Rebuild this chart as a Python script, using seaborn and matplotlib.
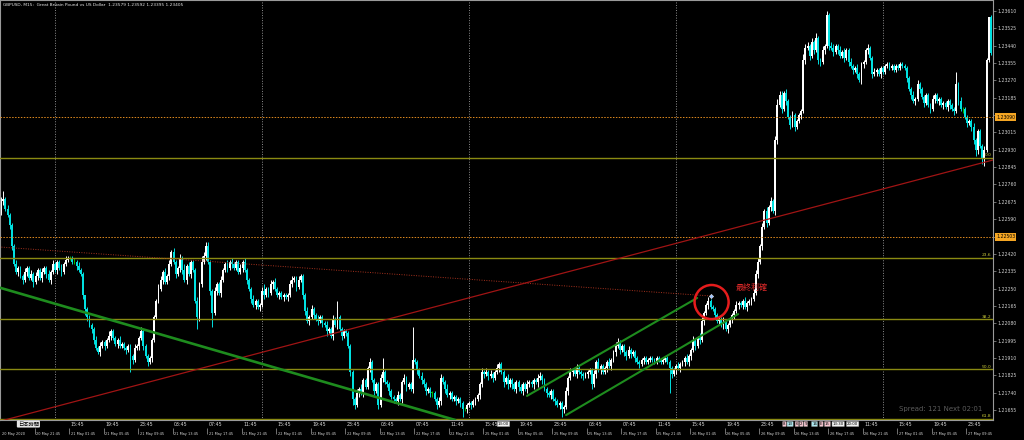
import matplotlib

matplotlib.use("Agg")
import matplotlib.pyplot as plt
from matplotlib.patches import Ellipse
import numpy as np
import pandas as pd
import seaborn as sns

# GBPUSD M15, closes in pips above 1.20000, first bar 20 May 17:45
FIRST_OPEN_PIPS = 262
CLOSE_PIPS = [
    268, 269, 264, 261, 256, 246, 237, 233, 235, 231,
    229, 233, 235, 230, 232, 228, 231, 234, 230, 233,
    235, 232, 229, 233, 237, 234, 238, 235, 233, 237,
    239, 240, 240, 238, 238, 236, 234, 232, 222, 215,
    211, 207, 205, 200, 196, 194, 197, 199, 197, 200,
    202, 204, 201, 198, 200, 197, 198, 196, 195, 197,
    192, 190, 196, 197, 201, 204, 197, 192, 189, 191,
    200, 211, 219, 225, 229, 233, 228, 231, 237, 243,
    238, 232, 235, 240, 234, 229, 236, 232, 238, 234,
    219, 211, 227, 238, 241, 246, 238, 224, 213, 224,
    227, 223, 229, 234, 237, 235, 238, 237, 235, 238,
    233, 235, 238, 234, 229, 225, 220, 217, 219, 216,
    217, 224, 222, 225, 223, 227, 228, 225, 222, 223,
    221, 222, 221, 222, 227, 229, 230, 226, 229, 231,
    222, 214, 209, 211, 215, 212, 210, 209, 211, 208,
    207, 204, 205, 202, 210, 207, 211, 205, 202, 204,
    203, 197, 184, 171, 168, 174, 176, 174, 180, 177,
    186, 189, 180, 175, 178, 168, 181, 184, 179, 178,
    175, 172, 171, 170, 173, 171, 179, 181, 177, 178,
    176, 190, 189, 185, 182, 180, 178, 175, 176, 174,
    174, 171, 168, 170, 181, 179, 176, 173, 174, 171,
    172, 170, 171, 169, 166, 166, 168, 169, 168, 170,
    171, 173, 178, 184, 183, 184, 182, 183, 181, 184,
    186, 188, 184, 179, 181, 178, 180, 178, 176, 179,
    177, 175, 178, 176, 178, 179, 178, 180, 179, 181,
    182, 180, 176, 174, 173, 175, 171, 170, 168, 169,
    166, 167, 175, 181, 184, 185, 183, 186, 184, 183,
    182, 183, 184, 185, 178, 183, 189, 185, 187, 184,
    186, 189, 187, 190, 194, 197, 199, 195, 197, 194,
    192, 195, 193, 194, 191, 189, 188, 190, 191, 189,
    190, 191, 190, 189, 191, 190, 189, 190, 191, 189,
    186, 183, 185, 187, 186, 188, 189, 191, 189, 192,
    195, 200, 197, 201, 200, 209, 213, 217, 219, 216,
    215, 212, 209, 210, 207, 209, 205, 207, 210, 212,
    214, 217, 218, 217, 219, 216, 218, 219, 220, 223,
    232, 238, 246, 255, 263, 257, 265, 268, 263, 298,
    315, 320, 313, 321, 317, 309, 305, 310, 304, 307,
    310, 312, 337, 343, 344, 339, 346, 342, 348, 337,
    336, 342, 344, 359, 344, 343, 341, 344, 342, 339,
    341, 338, 342, 336, 334, 332, 333, 330, 327, 335,
    336, 342, 343, 338, 330, 331, 332, 330, 333, 331,
    334, 335, 333, 334, 332, 334, 333, 335, 334, 333,
    328, 323, 320, 317, 318, 325, 323, 319, 316, 320,
    315, 313, 318, 320, 317, 318, 315, 316, 314, 317,
    315, 313, 312, 325, 317, 313, 313, 309, 306, 307,
    304, 298, 293, 302, 295, 289, 293, 337, 357.9, 340.5,
]
# wick lengths beyond the body, pips, one digit per bar
UPPER_WICK = (
    "2412111211 1211212112 1121211121 2111212110 1111212111 "
    "2111121111 1121121111 1112212121 2112131211 1213222112 "
    "1121121211 1212111211 1231121211 1111221121 1121211211 "
    "1211218111 1111121211 1211112711 1111211211 1111121111 "
    "1112211211 1111111111 1112121211 2111121111 1111211112 "
    "2111111111 1121211211 1111121211 1121122111 1211111111 "
    "1111111111 1111211121 1211221121 1111121111 1211121112 "
    "2212121212 3221211211 1132212121 1212122112 1211211211 "
    "1121121111 1111111111 1112121111 1121111111 1116121111 "
    "1211112101"
)
LOWER_WICK = (
    "1211221121 2121121212 1212112121 1111121123 2122112121 "
    "1211211121 8211212121 2111121121 1212212121 1621121271 "
    "2121121211 1121212121 2121212112 1212111211 2212121212 "
    "1211212121 1123212121 1212121211 2121212121 1212121212 "
    "2121212121 1212412121 2121212121 1212121212 2121211212 "
    "1212121212 4212121212 2121212121 1212121212 2121212121 "
    "1111111111 1212121212 2121212121 1212121212 2121212121 "
    "1212121212 2121212121 1212121212 2121212121 1212121212 "
    "2121212121 1111111111 2121212121 1212121212 2121212121 "
    "2232134111"
)
BIG_UPPER = {191: 16}
BIG_LOWER = {310: 12}

Y_TICK_LABELS = [
    "1.23610", "1.23525", "1.23440", "1.23355", "1.23270", "1.23185",
    "1.23100", "1.23015", "1.22930", "1.22845", "1.22760", "1.22675",
    "1.22590", "1.22505", "1.22420", "1.22335", "1.22250", "1.22165",
    "1.22080", "1.21995", "1.21910", "1.21825", "1.21740", "1.21655",
]
PRICE_LINES = [1.23090, 1.22503]
FIB_HIGH, FIB_LOW = 1.22890, 1.20820
FIB_RATIOS = [0.0, 0.236, 0.382, 0.5, 0.618]
FIB_LABELS = ["0.0", "23.6", "38.2", "50.0", "61.8"]
DAY_GRID_IDX = [25, 121, 217, 313, 409]

# trendlines: (bar index, price)
DOTTED_TREND_X, DOTTED_TREND_Y = [-1.0, 328.8], [1.22454, 1.22214]
RED_TREND_X, RED_TREND_Y = [-0.5, 460.0], [1.21600, 1.22880]
GREEN_TREND_X, GREEN_TREND_Y = [-0.5, 210.6], [1.22254, 1.21606]
CHANNEL_UP_X, CHANNEL_UP_Y = [243.9, 322.8], [1.21724, 1.22204]
CHANNEL_LO_X, CHANNEL_LO_Y = [262.0, 341.8], [1.21630, 1.22125]
MARK_IDX, MARK_PRICE = 329.3, 1.22214
NOTE_TEXT = "最終利確"

BOTTOM_IDX = [0, 16, 32, 48, 64, 80, 96, 112, 128, 144, 160, 176, 192, 208,
              224, 240, 256, 272, 288, 304, 320, 336, 352, 368, 384, 400,
              416, 432, 448]
BOTTOM_LABELS = [
    "20 May 2020", "20 May 21:45", "21 May 01:45", "21 May 05:45",
    "21 May 09:45", "21 May 13:45", "21 May 17:45", "21 May 21:45",
    "22 May 01:45", "22 May 05:45", "22 May 09:45", "22 May 13:45",
    "22 May 17:45", "22 May 21:45", "25 May 01:45", "25 May 05:45",
    "25 May 09:45", "25 May 13:45", "25 May 17:45", "25 May 21:45",
    "26 May 01:45", "26 May 05:45", "26 May 09:45", "26 May 13:45",
    "26 May 17:45", "26 May 21:45", "27 May 01:45", "27 May 05:45",
    "27 May 09:45",
]
# JST row; the two slots under the calendar markers are covered
JST_LABELS = [
    "15:45", "19:45", "23:45", "03:45", "07:45", "11:45",
    "15:45", "19:45", "23:45", "03:45", "07:45", "11:45",
    "15:45", "19:45", "23:45", "03:45", "07:45", "11:45",
    "15:45", "19:45", "23:45", None, None, "11:45",
    "15:45", "19:45", "23:45",
]
EVENT_IDX = [230.4, 362.7, 364.75, 368.5, 370.55, 372.6, 376.1, 379.8, 382.1, 385.6, 392.3]
EVENT_TEXT = ["13:00", "8", "13", "6", "2", "9", "16", "E", "15", "13:30", "20:00"]
EVENT_KIND = ["w", "p", "c", "p", "p", "p", "c", "p", "p", "w", "w"]
EVENT_FILL = {"w": "#f2f2f2", "p": "#f6c4cf", "c": "#aee6ee"}

TITLE = "GBPUSD, M15:  Great Britain Pound vs US Dollar  1.23579 1.23592 1.23395 1.23405"

BULL, BEAR, DOJI = "#ffffff", "#00e0e0", "#00c000"
OLIVE, ORANGE, GREEN, DARKRED = "#8a8a12", "#e08a1e", "#1e8c1e", "#a01414"


def digits(s):
    return np.array([int(ch) for ch in s.replace(" ", "")], dtype=float)


def main():
    sns.set_theme(style="dark")
    plt.rcParams["font.family"] = ["DejaVu Sans", "Noto Sans CJK JP"]

    close = 1.2 + np.array(CLOSE_PIPS, dtype=float) / 1e4
    open_ = np.r_[1.2 + FIRST_OPEN_PIPS / 1e4, close[:-1]]
    uw, lw = digits(UPPER_WICK), digits(LOWER_WICK)
    for k, v in BIG_UPPER.items():
        uw[k] = v
    for k, v in BIG_LOWER.items():
        lw[k] = v
    bars = pd.DataFrame({"open": open_, "close": close})
    bars["high"] = bars[["open", "close"]].max(axis=1) + uw / 1e4
    bars["low"] = bars[["open", "close"]].min(axis=1) - lw / 1e4
    idx = np.arange(len(bars))
    colors = np.where(bars.close > bars.open, BULL, np.where(bars.close < bars.open, BEAR, DOJI))

    fig = plt.figure(figsize=(10.24, 4.4), dpi=100, facecolor="black")
    ax = fig.add_axes([0, 20 / 440, 993 / 1024, 420 / 440])
    ax.set_facecolor("black")
    ax.set_xlim(-0.5, 460)
    ax.set_ylim(1.21606, 1.23664)
    ax.grid(False)
    for sp in ax.spines.values():
        sp.set_color("#9a9a9a")
        sp.set_linewidth(0.8)

    for g in DAY_GRID_IDX:
        ax.axvline(g, color="#8c8c8c", lw=0.7, ls=(0, (1, 1.6)), zorder=1)

    # candles
    body_lo = np.minimum(bars.open, bars.close)
    body_h = np.maximum(np.abs(bars.close - bars.open), 0.00002)
    ax.vlines(idx, bars.low, bars.high, colors=colors, lw=0.7, zorder=2)
    ax.bar(idx, body_h, bottom=body_lo, width=0.88, color=colors, linewidth=0, zorder=2)

    # horizontal levels
    for p in PRICE_LINES:
        ax.axhline(p, color=ORANGE, lw=0.7, ls=(0, (1.5, 1.5)), zorder=3)
    for r, lab in zip(FIB_RATIOS, FIB_LABELS):
        lvl = FIB_HIGH - r * (FIB_HIGH - FIB_LOW)
        ax.axhline(lvl, color=OLIVE, lw=1.0, zorder=3)
        ax.text(459.3, lvl + 0.00003, lab, color="#c8c83a", fontsize=3.2,
                ha="right", va="bottom", zorder=4)

    # trendlines
    sns.lineplot(x=DOTTED_TREND_X, y=DOTTED_TREND_Y, ax=ax, color="#a8321e",
                 lw=0.7, linestyle=(0, (1, 1.5)), zorder=3)
    sns.lineplot(x=RED_TREND_X, y=RED_TREND_Y, ax=ax, color=DARKRED, lw=0.9, zorder=3)
    sns.lineplot(x=GREEN_TREND_X, y=GREEN_TREND_Y, ax=ax, color=GREEN, lw=1.9, zorder=3)
    sns.lineplot(x=CHANNEL_UP_X, y=CHANNEL_UP_Y, ax=ax, color=GREEN, lw=1.5, zorder=3)
    sns.lineplot(x=CHANNEL_LO_X, y=CHANNEL_LO_Y, ax=ax, color=GREEN, lw=1.5, zorder=3)

    ax.add_patch(Ellipse((329.5, 1.22184), width=15.8, height=0.00167, fill=False,
                         ec="#e51c1c", lw=1.8, zorder=5))
    ax.scatter([MARK_IDX], [MARK_PRICE], marker="D", s=5, color="#9fc5ff",
               edgecolors="white", linewidths=0.3, zorder=6)
    ax.text(340.5, 1.22253, NOTE_TEXT, color="#e02a2a", fontsize=5.8, ha="left",
            va="center", family=["Noto Sans CJK JP"], zorder=6)

    ax.text(3 / 993, 1 - 5 / 420, TITLE, transform=ax.transAxes, color="#e8e8e8",
            fontsize=3.1, ha="left", va="center")
    ax.text(899 / 993, 1 - 409 / 420, "Spread: 121 Next 02:01", transform=ax.transAxes,
            color="#5c5c5c", fontsize=5.0, ha="left", va="center")

    # price scale on the right
    ax.set_xticks([])
    ax.yaxis.tick_right()
    ax.set_yticks([float(t) for t in Y_TICK_LABELS])
    ax.set_yticklabels(Y_TICK_LABELS)
    ax.tick_params(axis="y", direction="out", length=2, width=0.5, color="#9a9a9a",
                   labelcolor="#d0d0d0", labelsize=3.3, pad=1)
    for p in PRICE_LINES:
        ax.text(1.003, p, f"{p:.5f}", transform=ax.get_yaxis_transform(), color="black",
                fontsize=3.3, ha="left", va="center", clip_on=False, zorder=8,
                bbox=dict(boxstyle="square,pad=0.25", fc="#f5a623", ec="none"))

    # time scale
    tax = fig.add_axes([0, 0, 993 / 1024, 20 / 440])
    tax.set_xlim(-0.5, 460)
    tax.set_ylim(0, 20)
    tax.axis("off")
    for i, lab in zip(BOTTOM_IDX, BOTTOM_LABELS):
        if i > 0:
            tax.vlines(i - 0.5, 6, 12, color="#a0a0a0", lw=0.5)
        tax.text(i + 0.3, 6, lab, color="#d8d8d8", fontsize=2.5, ha="left", va="center")
    for i, lab in zip(BOTTOM_IDX[2:], JST_LABELS):
        if lab:
            tax.text(i + 0.3, 16, lab, color="#d8d8d8", fontsize=3.4, ha="left", va="center")
    tax.text(7.8, 16, "日本時間", color="black", fontsize=3.8, ha="left", va="center",
             family=["Noto Sans CJK JP"],
             bbox=dict(boxstyle="round,pad=0.2", fc="#e6e6e6", ec="none"))
    for i, lab, kind in zip(EVENT_IDX, EVENT_TEXT, EVENT_KIND):
        tax.text(i, 16, lab, color="black", fontsize=2.8, ha="left", va="center", zorder=5,
                 bbox=dict(boxstyle="round,pad=0.15", fc=EVENT_FILL[kind], ec="#888888", lw=0.3))

    fig.savefig("out.png", dpi=100, facecolor="black")
    plt.close(fig)


if __name__ == "__main__":
    main()
